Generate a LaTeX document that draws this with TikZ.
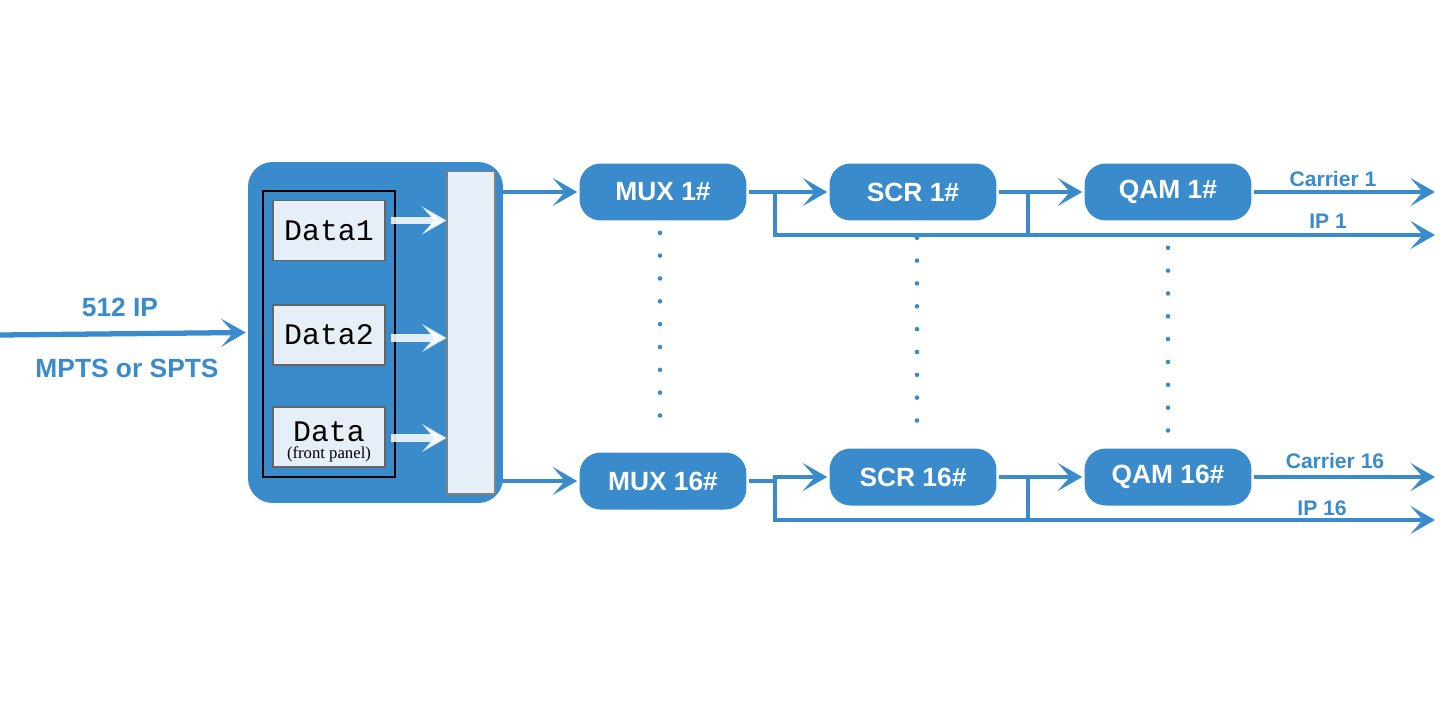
\documentclass[tikz,border=0pt]{standalone}
\usepackage{fontspec}
\setmainfont{Liberation Sans}
\newfontfamily\datafont{Liberation Mono}
\newfontfamily\panelfont{Liberation Serif}
\usetikzlibrary{arrows.meta,positioning}
\definecolor{mainblue}{HTML}{3A8BCB}
\definecolor{paleblue}{HTML}{E6EEF8}

\begin{document}
\begin{tikzpicture}[x=0.02cm,y=-0.02cm,line width=2.6pt,
    >={Stealth[length=14pt,width=16pt,inset=7pt]},
    blk/.style={rectangle,rounded corners=12pt,fill=mainblue,text=white,
      font=\bfseries\fontsize{15}{15}\selectfont,minimum width=3.34cm,minimum height=1.14cm},
    data/.style={rectangle,draw=black!60,line width=0.6pt,fill=paleblue,
      minimum width=2.24cm,minimum height=1.2cm,font=\datafont\fontsize{17}{17}\selectfont},
    lbl/.style={text=mainblue,font=\bfseries\fontsize{12}{12}\selectfont},
    flow/.style={->,draw=mainblue},
    wflow/.style={->,draw=white,opacity=0.85,line width=4pt},
    dots/.style={draw=mainblue,line width=2.6pt,line cap=round,dash pattern=on 0pt off 13pt}]
    \useasboundingbox (0,0) rectangle (1440,700);
    % input block
    \node[rectangle,rounded corners=14pt,fill=mainblue,minimum width=5.1cm,minimum height=6.82cm] (box) at (375.5,332.5) {};
    \draw[line width=1pt] (263,191) rectangle (395,477);
    \node[data] (d1) at (329,230.5) {Data1};
    \node[data] (d2) at (329,335) {Data2};
    \node[data] (d3) at (329,437) {};
    \node[font=\datafont\fontsize{17}{17}\selectfont] at (329,432) {Data};
    \node[font=\panelfont\fontsize{9.5}{9.5}\selectfont] at (329,454) {(front panel)};
    \node[rectangle,draw=black!50,line width=0.6pt,fill=paleblue,minimum width=0.96cm,minimum height=6.46cm] (bar) at (471,332.5) {};
    \draw[wflow] (d1.east) ++(3pt,-10) coordinate (w1) -- (w1 -| bar.west);
    \draw[wflow] (d2.east) ++(3pt,3) coordinate (w2) -- (w2 -| bar.west);
    \draw[wflow] (d3.east) ++(3pt,1) coordinate (w3) -- (w3 -| bar.west);
    \coordinate (in) at (0,335);
    \draw[flow,line width=3pt] (in) -- (box.west);
    \node[lbl,font=\bfseries\fontsize{15}{15}\selectfont] at (120,307) {512 IP};
    \node[lbl,font=\bfseries\fontsize{15}{15}\selectfont] at (127,368) {MPTS or SPTS};
    % channel chains
    \foreach \ch/\y/\dy in {1/192/0,16/477/4} {
      \node[blk] (mux\ch) at (663,\y+\dy) {MUX \ch\#};
      \node[blk] (scr\ch) at (913,\y) {SCR \ch\#};
      \node[blk] (qam\ch) at (1168,\y) {QAM \ch\#};
      \coordinate (car\ch) at (1435,\y);
      \coordinate (ip\ch) at (1435,\y+43);
      \draw[flow] (bar.east |- mux\ch) -- (mux\ch.west);
      \draw[flow] (mux\ch.east) -| (775,\y) -- (scr\ch.west);
      \draw[flow] (scr\ch.east) -- (qam\ch.west);
      \draw[flow] (qam\ch.east) -- (car\ch);
      \draw[flow] (775,\y) -- (775,\y+43) -- (ip\ch);
      \draw[draw=mainblue] (1028,\y) -- (1028,\y+43);
    }
    \node[lbl] at (1333,179) {Carrier 1};
    \node[lbl] at (1328,221) {IP 1};
    \node[lbl] at (1335,461) {Carrier 16};
    \node[lbl] at (1322,508) {IP 16};
    \draw[dots] (mux1.south) ++(-3,10) -- ++(0,205);
    \draw[dots] (scr1.south) ++(4,15) -- ++(0,205);
    \draw[dots] (qam1.south) ++(0,25) -- ++(0,195);
\end{tikzpicture}
\end{document}
